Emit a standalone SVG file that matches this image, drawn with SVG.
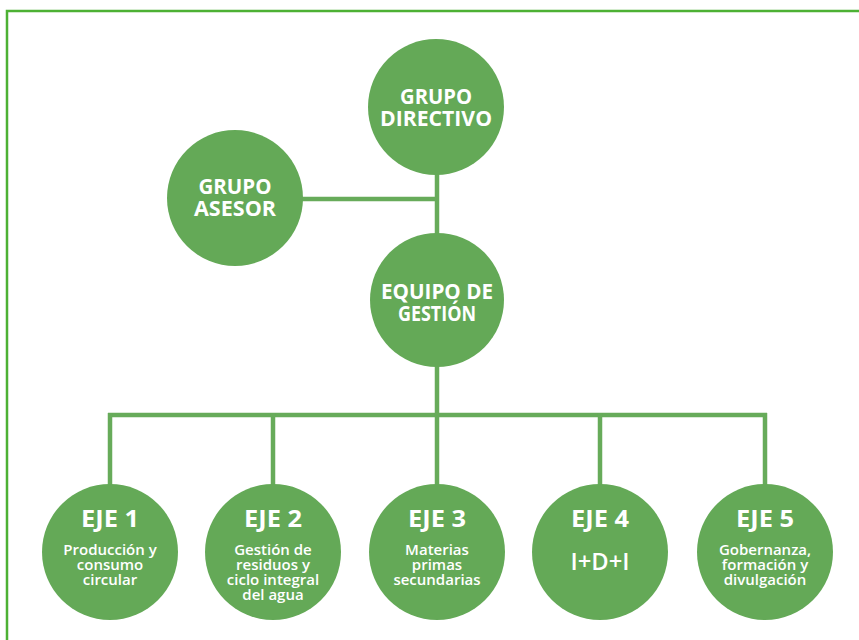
<svg xmlns="http://www.w3.org/2000/svg" width="859" height="640" viewBox="0 0 859 640">
<style>
.node circle{fill:#64a957}
.title{font-family:"Open Sans","Liberation Sans",sans-serif;font-weight:bold;font-size:21px;fill:#fff;text-anchor:middle}
.eje{font-family:"Open Sans","Liberation Sans",sans-serif;font-weight:bold;font-size:24px;fill:#fff;text-anchor:middle}
.sub{font-family:"Open Sans","Liberation Sans",sans-serif;font-weight:600;font-size:15px;fill:#fff;text-anchor:middle}
.conn line{stroke:#67ab5a;stroke-width:4.5;fill:none}
</style>
<rect width="859" height="640" fill="#fff"/>
<path d="M7,640 V11 H859" fill="none" stroke="#4db134" stroke-width="2.5"/>
<g id="connectors" class="conn">
<line x1="437" y1="170" x2="437" y2="240"/>
<line x1="300" y1="199" x2="437" y2="199"/>
<line x1="437" y1="360" x2="437" y2="415"/>
<line x1="108" y1="415" x2="767" y2="415"/>
<line x1="110" y1="413" x2="110" y2="490"/>
<line x1="273" y1="413" x2="273" y2="490"/>
<line x1="437" y1="413" x2="437" y2="490"/>
<line x1="600" y1="413" x2="600" y2="490"/>
<line x1="765" y1="413" x2="765" y2="490"/>
</g>
<g id="grupo-directivo" class="node">
<circle cx="436" cy="107" r="68"/>
<text class="title" x="436" y="104" textLength="72" lengthAdjust="spacingAndGlyphs">GRUPO</text>
<text class="title" x="436" y="126" textLength="112" lengthAdjust="spacingAndGlyphs">DIRECTIVO</text>
</g>
<g id="grupo-asesor" class="node">
<circle cx="235" cy="198" r="68"/>
<text class="title" x="235" y="194" textLength="73" lengthAdjust="spacingAndGlyphs">GRUPO</text>
<text class="title" x="235" y="216" textLength="82" lengthAdjust="spacingAndGlyphs">ASESOR</text>
</g>
<g id="equipo-gestion" class="node">
<circle cx="437" cy="300" r="67"/>
<text class="title" x="437" y="299" textLength="112" lengthAdjust="spacingAndGlyphs">EQUIPO DE</text>
<text class="title" x="437" y="321" textLength="78" lengthAdjust="spacingAndGlyphs">GESTIÓN</text>
</g>
<g id="eje1" class="node">
<circle cx="110" cy="552" r="68"/>
<text class="eje" x="110" y="527" textLength="58" lengthAdjust="spacingAndGlyphs">EJE 1</text>
<text class="sub" x="110" y="555">Producción y</text>
<text class="sub" x="110" y="570">consumo</text>
<text class="sub" x="110" y="585">circular</text>
</g>
<g id="eje2" class="node">
<circle cx="273" cy="552" r="68"/>
<text class="eje" x="273" y="527" textLength="58" lengthAdjust="spacingAndGlyphs">EJE 2</text>
<text class="sub" x="273" y="555">Gestión de</text>
<text class="sub" x="273" y="570">residuos y</text>
<text class="sub" x="273" y="585">ciclo integral</text>
<text class="sub" x="273" y="600">del agua</text>
</g>
<g id="eje3" class="node">
<circle cx="437" cy="552" r="68"/>
<text class="eje" x="437" y="527" textLength="58" lengthAdjust="spacingAndGlyphs">EJE 3</text>
<text class="sub" x="437" y="555">Materias</text>
<text class="sub" x="437" y="570">primas</text>
<text class="sub" x="437" y="585">secundarias</text>
</g>
<g id="eje4" class="node">
<circle cx="600" cy="552" r="68"/>
<text class="eje" x="600" y="527" textLength="58" lengthAdjust="spacingAndGlyphs">EJE 4</text>
<text class="eje" x="600" y="570" style="font-weight:600" textLength="59" lengthAdjust="spacingAndGlyphs">I+D+I</text>
</g>
<g id="eje5" class="node">
<circle cx="765" cy="552" r="68"/>
<text class="eje" x="765" y="527" textLength="58" lengthAdjust="spacingAndGlyphs">EJE 5</text>
<text class="sub" x="765" y="555">Gobernanza,</text>
<text class="sub" x="765" y="570">formación y</text>
<text class="sub" x="765" y="585">divulgación</text>
</g>
</svg>
